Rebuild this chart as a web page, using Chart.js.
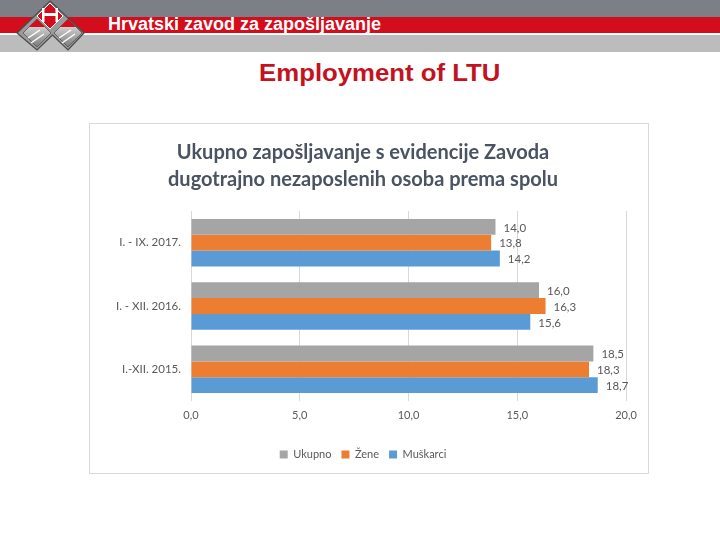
<!DOCTYPE html>
<html><head><meta charset="utf-8">
<script src="https://cdn.jsdelivr.net/npm/chart.js@4"></script>
<style>
html,body{margin:0;padding:0;background:#fff;width:720px;height:540px;overflow:hidden;position:relative;font-family:"Liberation Sans",Arial,sans-serif}
#topband{position:absolute;left:0;top:0;width:720px;height:17px;background:#7d7f87}
#redband{position:absolute;left:0;top:17px;width:720px;height:16px;background:#d40d1c}
#whiteline{position:absolute;left:0;top:33px;width:720px;height:2px;background:#fff}
#greyband{position:absolute;left:0;top:35px;width:720px;height:17px;background:#bcbcbc}
#hztext{position:absolute;left:108px;top:14px;color:#fff;font-family:"Liberation Sans",Arial,sans-serif;font-weight:bold;font-size:18px;white-space:nowrap;transform-origin:left top;transform:scaleX(1.0)}
#logo{position:absolute;left:0;top:0;width:100px;height:54px}
#title{position:absolute;left:0;top:60px;width:760px;text-align:center;color:#c4121e;font-family:"Liberation Sans",Arial,sans-serif;font-weight:bold;font-size:23px}
#title span{display:inline-block;transform:scaleX(1.12)}
#box{position:absolute;left:89px;top:123px;width:560px;height:351px;border:1px solid #d9d9d9;box-sizing:border-box;background:#fff}
#box canvas{display:block}
</style></head>
<body>
<div id="topband"></div><div id="redband"></div><div id="whiteline"></div><div id="greyband"></div>
<svg id="logo" viewBox="0 0 100 54">
  <defs>
    <linearGradient id="g1" x1="0" y1="0" x2="0" y2="1"><stop offset="0" stop-color="#f0f0f0"/><stop offset="1" stop-color="#7a7a7a"/></linearGradient>
  </defs>
  <polygon points="50,1 84,33 68,50 52.5,35 37,50 17,33" fill="#9a9a9a" stroke="#4a4a4a" stroke-width="1.2"/>
  <polygon points="37,19 51,33 37,47 23,33" fill="url(#g1)" stroke="#555" stroke-width="0.8"/>
  <polygon points="68,19 82,33 68,47 54,33" fill="url(#g1)" stroke="#555" stroke-width="0.8"/>
  <polygon points="37,19 45,27 29,27" fill="#d40d1c"/>
  <polygon points="68,19 76,27 60,27" fill="#d40d1c"/>
  <polygon points="50,3 63,16 50,29 37,16" fill="#d40d1c" stroke="#fff" stroke-width="1"/>
  <rect x="42" y="13" width="16" height="3" fill="#fff"/>
  <rect x="42" y="8" width="2.5" height="14" fill="#fff"/>
  <rect x="55.5" y="8" width="2.5" height="14" fill="#fff"/>
  <line x1="28" y1="38" x2="40" y2="30" stroke="#fff" stroke-width="1.5"/>
  <line x1="31" y1="43" x2="44" y2="34" stroke="#fff" stroke-width="1.5"/>
  <line x1="59" y1="38" x2="71" y2="30" stroke="#fff" stroke-width="1.5"/>
  <line x1="62" y1="43" x2="75" y2="34" stroke="#fff" stroke-width="1.5"/>
</svg>
<div id="hztext">Hrvatski zavod za zapošljavanje</div>
<div id="title"><span>Employment of LTU</span></div>
<div id="box"><canvas id="c" width="558" height="349"></canvas></div>
<script>
const categories = ['I. - IX. 2017.', 'I. - XII. 2016.', 'I.-XII. 2015.'];
const seriesNames = ['Ukupno', 'Žene', 'Muškarci'];
const ukupno = [14.0, 16.0, 18.5];
const zene = [13.8, 16.3, 18.3];
const muskarci = [14.2, 15.6, 18.7];
const xTicks = [0, 5, 10, 15, 20];
const colors = ['#a5a5a5', '#ed7d31', '#5b9bd5'];

const fmt = v => v.toFixed(1).replace('.', ',');

const labelPlugin = {
  id: 'valueLabels',
  afterDatasetsDraw(chart) {
    const ctx = chart.ctx;
    ctx.save();
    ctx.font = '11.5px Lato, "Open Sans", sans-serif';
    ctx.fillStyle = '#595959';
    ctx.textAlign = 'left';
    ctx.textBaseline = 'middle';
    chart.data.datasets.forEach((ds, i) => {
      chart.getDatasetMeta(i).data.forEach((bar, j) => {
        ctx.fillText(fmt(ds.data[j]), bar.x + 8, bar.y + 1);
      });
    });
    ctx.restore();
  }
};

Chart.defaults.font.family = 'Lato, "Open Sans", sans-serif';
new Chart(document.getElementById('c'), {
  type: 'bar',
  data: {
    labels: categories,
    datasets: [
      { label: seriesNames[0], data: ukupno, backgroundColor: colors[0] },
      { label: seriesNames[1], data: zene, backgroundColor: colors[1] },
      { label: seriesNames[2], data: muskarci, backgroundColor: colors[2] }
    ]
  },
  options: {
    indexAxis: 'y',
    responsive: false,
    animation: false,
    devicePixelRatio: 1,
    categoryPercentage: 0.75,
    barPercentage: 1.0,
    layout: { padding: { left: 10, right: 22, top: 15, bottom: 3 } },
    plugins: {
      title: {
        display: true,
        text: ['Ukupno zapošljavanje s evidencije Zavoda', 'dugotrajno nezaposlenih osoba prema spolu'],
        color: '#4a5362',
        font: { size: 20, weight: 'bold', lineHeight: 1.35 },
        padding: { top: 0, bottom: 18 }
      },
      legend: {
        position: 'bottom',
        labels: { boxWidth: 8, boxHeight: 8, color: '#595959', font: { size: 11 }, padding: 10 }
      },
      tooltip: { enabled: false }
    },
    scales: {
      x: {
        min: 0, max: 20,
        afterBuildTicks: s => { s.ticks = xTicks.map(v => ({ value: v })); },
        ticks: { color: '#595959', font: { size: 11 }, padding: 8, callback: v => fmt(v) },
        grid: { color: '#d9d9d9', drawTicks: false },
        border: { display: false },
        afterFit: s => { s.height = 38; }
      },
      y: {
        ticks: { color: '#595959', font: { size: 11.5 }, padding: 10 },
        grid: { display: false, drawTicks: false },
        border: { display: false },
        afterFit: s => { s.width = 91; }
      }
    }
  },
  plugins: [labelPlugin]
});
</script>
</body></html>
